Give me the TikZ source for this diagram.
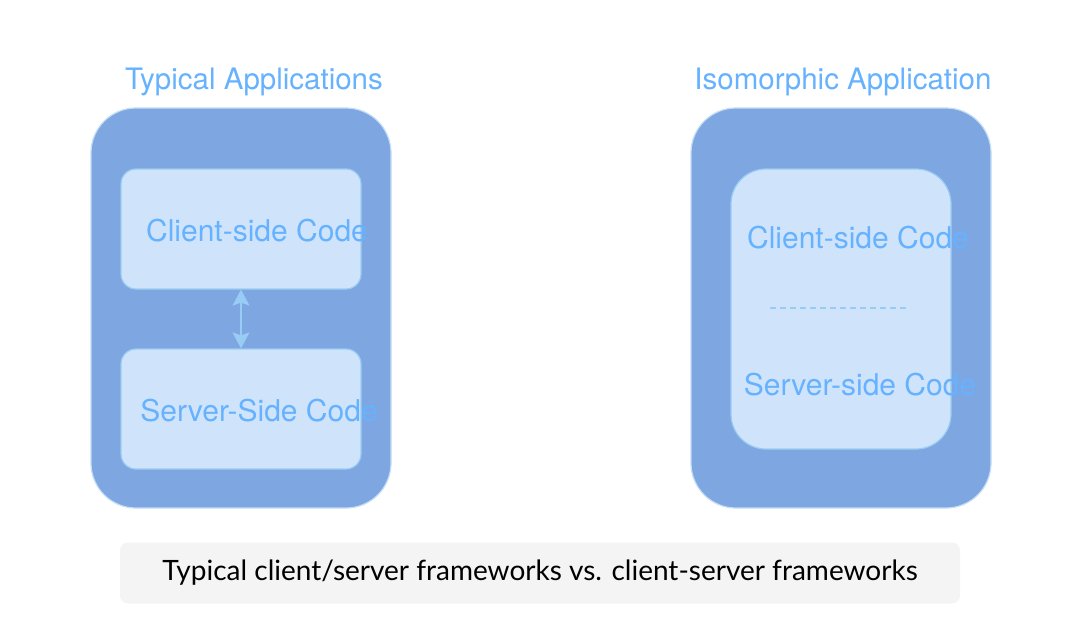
\documentclass[tikz,border=0pt]{standalone}
\usepackage{fontspec}
\setmainfont{TeX Gyre Heros}
\newfontfamily\capfont{Lato}
\usetikzlibrary{arrows.meta}

\definecolor{outerfill}{HTML}{7EA6E0}
\definecolor{outerline}{HTML}{C2DCF7}
\definecolor{innerfill}{HTML}{CFE4FB}
\definecolor{innerline}{HTML}{99CCF5}
\definecolor{labelblue}{HTML}{66B2FF}
\definecolor{capgray}{HTML}{F4F4F4}

\tikzset{
  outerbox/.style={draw=outerline, line width=1.2pt, fill=outerfill, rounded corners=45pt,
    minimum width=300pt, minimum height=400pt, inner sep=0pt},
  innerbox/.style={draw=innerline, line width=1.2pt, fill=innerfill, rounded corners=15pt,
    minimum width=240pt, minimum height=120pt, inner sep=0pt},
  codetext/.style={text=labelblue, font=\fontsize{30}{34}\selectfont},
  titletext/.style={text=labelblue, font=\fontsize{29.5}{34}\selectfont},
}

\begin{document}
\begin{tikzpicture}[x=1pt,y=-1pt]
        \useasboundingbox (0,0) rectangle (1086,634);

        % left side
        \node[titletext] (tleft) at (254,82) {Typical Applications};
        \node[outerbox] (oleft) at (241,308) {};
        \node[innerbox] (client) at (241,229) {};
        \node[innerbox] (server) at (241,409) {};
        \node[codetext] at (257,231) {Client-side Code};
        \node[codetext] at (259,411) {Server-Side Code};
        \draw[innerline, line width=1.5pt, {Stealth[width=17pt,length=16pt,inset=3pt]}-{Stealth[width=17pt,length=16pt,inset=3pt]}]
            (client.south) -- (server.north);

        % right side
        \node[titletext] (tright) at (843,82) {Isomorphic Application};
        \node[outerbox] (oright) at (841,308) {};
        \node[innerbox, minimum width=220pt, minimum height=280pt, rounded corners=35pt] (iso) at (841,309) {};
        \node[codetext] at (858,238) {Client-side Code};
        \node[codetext] at (860,385) {Server-side Code};
        \coordinate (da) at (770,308);
        \coordinate (db) at (910,308);
        \draw[innerline, line width=1.2pt, dash pattern=on 6pt off 4pt] (da) -- (db);

        % caption
        \node[fill=capgray, rounded corners=8pt, minimum width=840pt, minimum height=61pt,
            font=\capfont\fontsize{28}{32}\selectfont] (cap) at (540,573)
            {Typical client/server frameworks vs. client-server frameworks};
    \end{tikzpicture}
\end{document}
